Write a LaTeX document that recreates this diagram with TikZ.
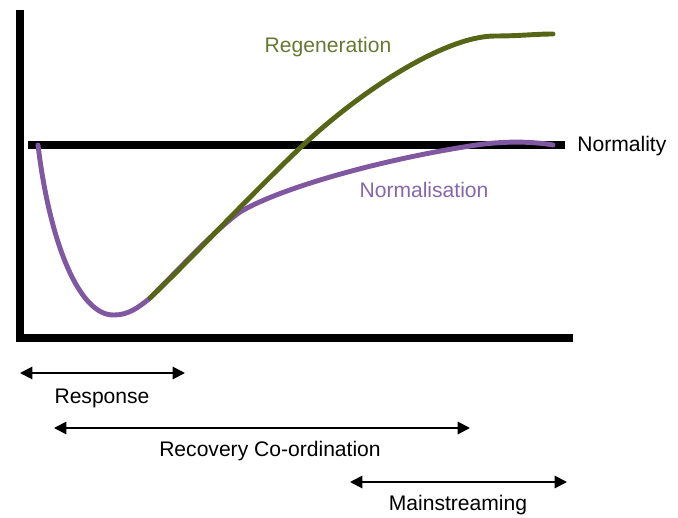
\documentclass[tikz,border=0pt]{standalone}
\usepackage{fontspec}
\setmainfont{Liberation Sans}
\usepackage{tikz}
\usetikzlibrary{arrows.meta}

\definecolor{regen}{RGB}{86,102,22}
\definecolor{regentext}{RGB}{104,120,52}
\definecolor{norm}{RGB}{128,88,162}
\definecolor{normtext}{RGB}{134,104,170}

\begin{document}
\begin{tikzpicture}[
    x=0.02cm, y=-0.02cm,
    axis/.style={line width=4.5pt, line join=miter},
    level/.style={line width=4pt},
    curve/.style={line width=2.8pt, line cap=round, line join=round},
    span/.style={{Triangle[length=7pt,width=7pt]}-{Triangle[length=7pt,width=7pt]}, line width=1.1pt},
    tag/.style={font=\fontsize{12}{14}\selectfont, inner sep=0pt}
]
\useasboundingbox (0,0) rectangle (678,517);

% Axes
\draw[axis] (20,10) -- (20,338) -- (573,338);

% Normality level
\draw[level] (28,145) -- (565,145);
\node[tag, anchor=west] (normality) at (577,146) {Normality};

% Normalisation curve: dip, climb, then back to the level
\draw[curve, norm] (38,145) .. controls (50,245) and (80,316) .. (114,315)
    .. controls (128,315) and (138,308) .. (150,298)
    .. controls (185,263) and (215,230) .. (240,212)
    .. controls (280,188) and (380,160) .. (470,146)
    .. controls (500,141) and (530,141) .. (553,145);
\node[tag, text=normtext] (normalisation) at (424,190) {Normalisation};

% Regeneration curve, drawn over the shared stretch
\draw[curve, regen] (150,298) .. controls (190,260) and (250,195.5) .. (300,148)
    .. controls (360,91) and (445,36) .. (495,36)
    .. controls (520,36) and (535,34) .. (553,34);
\node[tag, text=regentext] (regeneration) at (328,47) {Regeneration};

% Phases
\coordinate (resp-l) at (20,373);
\coordinate (resp-r) at (185,373);
\coordinate (reco-l) at (54,428);
\coordinate (reco-r) at (470,428);
\coordinate (main-l) at (350,482);
\coordinate (main-r) at (567,482);

\draw[span] (resp-l) -- (resp-r);
\node[tag] (response) at (102,398) {Response};

\draw[span] (reco-l) -- (reco-r);
\node[tag] (recovery) at (270,451) {Recovery Co-ordination};

\draw[span] (main-l) -- (main-r);
\node[tag] (mainstreaming) at (458,505) {Mainstreaming};

\end{tikzpicture}
\end{document}
